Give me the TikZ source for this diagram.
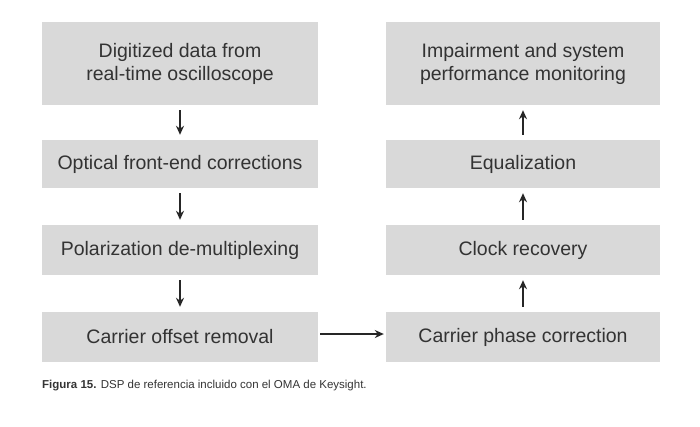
\documentclass[tikz,border=0pt]{standalone}
\usepackage{fontspec}
\setmainfont{Liberation Sans}
\usetikzlibrary{arrows.meta}
\definecolor{boxgray}{HTML}{D9D9D9}
\definecolor{txt}{HTML}{333333}
\begin{document}
\begin{tikzpicture}[x=1pt,y=-1pt,
  blk/.style={fill=boxgray,draw=none,text=txt,font=\fontsize{19.5}{23}\selectfont,align=center,inner sep=0pt},
  arr/.style={-{Stealth[length=9pt,width=8pt]},line width=1.5pt,draw=black!85}]
\useasboundingbox (0,0) rectangle (700,426);
\node[blk,minimum width=276pt,minimum height=83pt] (l1) at (180,63.5) {Digitized data from\\real-time oscilloscope};
\node[blk,minimum width=276pt,minimum height=48pt] (l2) at (180,164) {Optical front-end corrections};
\node[blk,minimum width=276pt,minimum height=50pt] (l3) at (180,250) {Polarization de-multiplexing};
\node[blk,minimum width=276pt,minimum height=50pt] (l4) at (180,337) {Carrier offset removal};
\node[blk,minimum width=274pt,minimum height=83pt] (r1) at (523,63.5) {Impairment and system\\performance monitoring};
\node[blk,minimum width=274pt,minimum height=48pt] (r2) at (523,164) {Equalization};
\node[blk,minimum width=274pt,minimum height=50pt] (r3) at (523,250) {Clock recovery};
\node[blk,minimum width=274pt,minimum height=50pt] (r4) at (523,337) {Carrier phase correction};
\draw[arr] ([yshift=-5pt]l1.south) -- ([yshift=5pt]l2.north);
\draw[arr] ([yshift=-5pt]l2.south) -- ([yshift=5pt]l3.north);
\draw[arr] ([yshift=-5pt]l3.south) -- ([yshift=5pt]l4.north);
\draw[arr] ([xshift=2pt,yshift=3pt]l4.east) -- ([xshift=-2pt,yshift=3pt]r4.west);
\draw[arr] ([yshift=5pt]r4.north) -- ([yshift=-5pt]r3.south);
\draw[arr] ([yshift=5pt]r3.north) -- ([yshift=-5pt]r2.south);
\draw[arr] ([yshift=5pt]r2.north) -- ([yshift=-5pt]r1.south);
\node[anchor=west,inner sep=0pt,text=txt,font=\fontsize{11.5}{13}\selectfont] (cap) at (42,386) {\textbf{Figura 15.} DSP de referencia incluido con el OMA de Keysight.};
\end{tikzpicture}
\end{document}
